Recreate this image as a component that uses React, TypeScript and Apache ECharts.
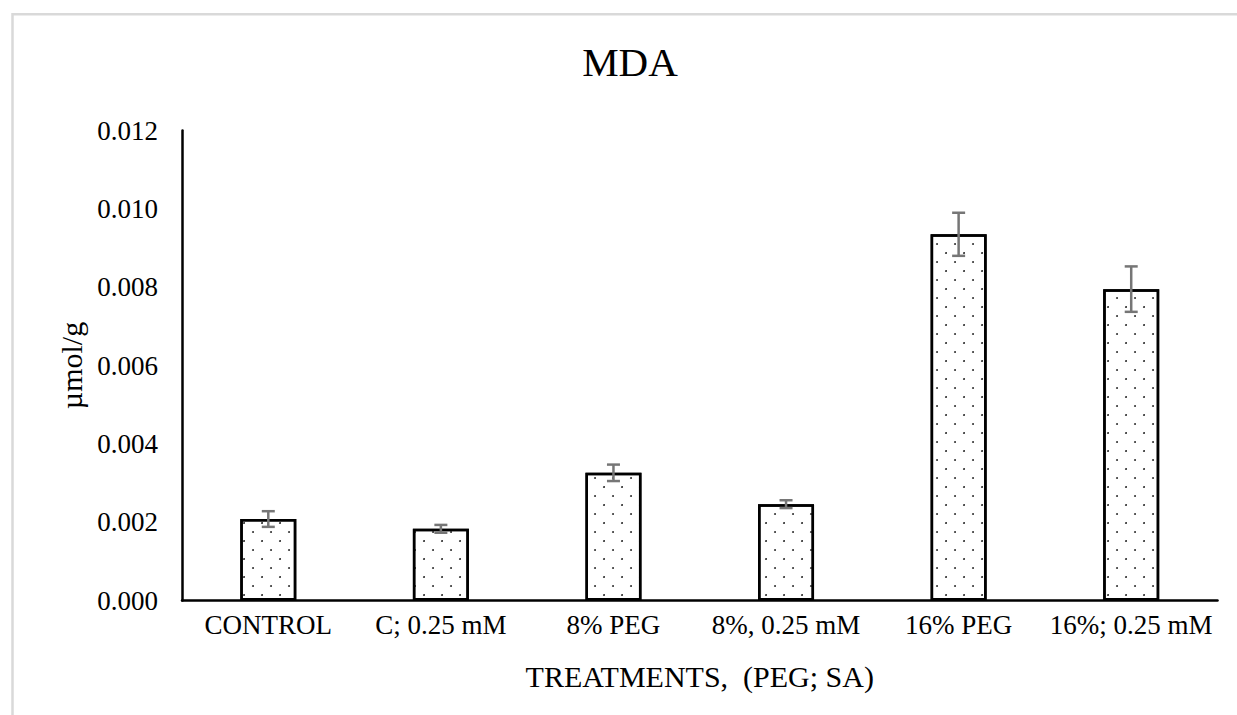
import React, { useEffect, useRef } from "react";
import * as echarts from "echarts";

const categories = ["CONTROL", "C; 0.25 mM", "8% PEG", "8%, 0.25 mM", "16% PEG", "16%; 0.25 mM"];
const mdaValues = [0.00208, 0.00183, 0.00326, 0.00246, 0.00935, 0.00795];
const mdaErrors = [0.0002, 0.0001, 0.00021, 0.0001, 0.00055, 0.00058];
const yTicks = { min: 0, max: 0.012, interval: 0.002 };

const FONT = "Liberation Serif";

export default function App() {
  const ref = useRef<HTMLDivElement>(null);
  useEffect(() => {
    if (!ref.current) return;
    const chart = echarts.init(ref.current, null, { renderer: "svg" });
    const errData = mdaValues.map((v, i) => [i, v, mdaErrors[i]]);
    chart.setOption({
      animation: false,
      backgroundColor: "#fff",
      textStyle: { fontFamily: FONT, color: "#000" },
      graphic: [
        {
          type: "rect",
          shape: { x: 12.5, y: 14.3, width: 1400, height: 900 },
          style: { fill: "none", stroke: "#d9d9d9", lineWidth: 2.5 },
          silent: true,
        },
        {
          type: "text",
          x: 630,
          y: 62,
          style: {
            text: "MDA",
            fontFamily: FONT,
            fontSize: 41,
            fill: "#000",
            textAlign: "center",
            textVerticalAlign: "middle",
          },
        },
      ],
      grid: { left: 182, right: 19.5, top: 130.5, bottom: 114.5, containLabel: false },
      xAxis: {
        type: "category",
        data: categories,
        name: "TREATMENTS,  (PEG; SA)",
        nameLocation: "middle",
        nameGap: 61,
        nameTextStyle: { fontFamily: FONT, fontSize: 30, color: "#000" },
        axisLine: { lineStyle: { color: "#000", width: 2.5 } },
        axisTick: { show: false },
        axisLabel: { fontFamily: FONT, fontSize: 27, color: "#000", margin: 11, interval: 0 },
      },
      yAxis: {
        type: "value",
        min: yTicks.min,
        max: yTicks.max,
        interval: yTicks.interval,
        name: "µmol/g",
        nameLocation: "middle",
        nameGap: 96,
        nameRotate: 90,
        nameTextStyle: { fontFamily: FONT, fontSize: 30, color: "#000" },
        axisLine: { show: true, lineStyle: { color: "#000", width: 2.5 } },
        axisTick: { show: false },
        splitLine: { show: false },
        axisLabel: {
          fontFamily: FONT,
          fontSize: 27,
          color: "#000",
          margin: 24,
          formatter: (v: number) => v.toFixed(3),
        },
      },
      series: [
        {
          type: "bar",
          data: mdaValues,
          barWidth: 56,
          itemStyle: {
            color: "#fff",
            borderColor: "#000",
            borderWidth: 2.5,
            decal: {
              symbol: "circle",
              symbolSize: 0.9,
              color: "#1a1a1a",
              backgroundColor: null,
              dashArrayX: [[2, 16], [0, 9, 2, 7]],
              dashArrayY: [2, 7],
              rotation: 0,
            },
          },
          z: 2,
        },
        {
          type: "custom",
          data: errData,
          encode: { x: 0, y: 1 },
          z: 5,
          renderItem: (params: any, api: any) => {
            const x = api.value(0);
            const v = api.value(1);
            const e = api.value(2);
            const hi = api.coord([x, v + e]);
            const lo = api.coord([x, v - e]);
            const hw = 6.5;
            const style = { stroke: "#767676", lineWidth: 2.5 };
            return {
              type: "group",
              children: [
                { type: "line", shape: { x1: hi[0], y1: hi[1], x2: lo[0], y2: lo[1] }, style },
                { type: "line", shape: { x1: hi[0] - hw, y1: hi[1], x2: hi[0] + hw, y2: hi[1] }, style },
                { type: "line", shape: { x1: lo[0] - hw, y1: lo[1], x2: lo[0] + hw, y2: lo[1] }, style },
              ],
            };
          },
        },
      ],
    });
    return () => chart.dispose();
  }, []);
  return (
    <div
      ref={ref}
      style={{ position: "fixed", left: 0, top: 0, width: 1237, height: 715, background: "#fff" }}
    />
  );
}
